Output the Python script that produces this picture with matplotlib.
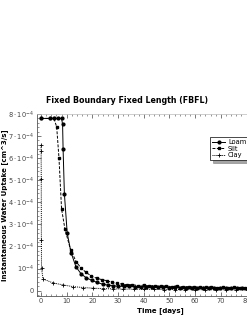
import matplotlib
matplotlib.use("Agg")
import matplotlib.pyplot as plt
from matplotlib.ticker import MultipleLocator, FuncFormatter

# ---------------- data (values in units of 1e-4 cm^3/s) ----------------
loam_t = [0, 3.5, 5, 6.5, 8, 8.4, 8.6, 9.1, 10.2, 11.7, 13.6, 15.6, 17.6, 19.7, 21.8, 24.0,
          26.0, 28.0, 30.0, 32.2, 34.4, 36.6, 38.8, 41.0, 43.2, 45.4, 47.6, 49.8, 52.0, 54.2,
          56.4, 58.6, 60.8, 63.0, 65.2, 67.4, 69.6, 71.8, 74.0, 76.2, 78.4, 80.6, 82.8, 85.0,
          87.2, 89.4, 91.6, 93.8]
loam_y = [7.8, 7.8, 7.8, 7.8, 7.8, 7.53, 6.4, 4.39, 2.6, 1.72, 1.08, 0.76, 0.58, 0.47, 0.37, 0.29,
          0.25, 0.22, 0.2, 0.19, 0.2, 0.17, 0.18, 0.16, 0.17, 0.15, 0.16, 0.14, 0.15, 0.13,
          0.14, 0.12, 0.13, 0.12, 0.13, 0.11, 0.12, 0.11, 0.12, 0.1, 0.11, 0.1, 0.11, 0.1,
          0.1, 0.09, 0.1, 0.09]

silt_t = [0, 3.5, 5, 6.1, 7.0, 8.0, 9.3, 11.5, 13.7, 15.6, 17.5, 19.6, 21.7, 23.6, 25.5, 27.5,
          29.5, 31.4, 33.3, 35.5, 37.7, 39.9, 42.1, 44.3, 46.5, 48.7, 50.9, 53.1, 55.3, 57.5,
          59.7, 61.9, 64.1, 66.3, 68.5, 70.7, 72.9, 75.1, 77.3, 79.5, 81.7, 83.9, 86.1, 88.3,
          90.5, 92.7]
silt_y = [7.8, 7.8, 7.8, 7.42, 6.0, 3.7, 2.8, 1.85, 1.31, 1.02, 0.83, 0.66, 0.56, 0.5, 0.45, 0.38,
          0.33, 0.3, 0.26, 0.27, 0.23, 0.25, 0.21, 0.23, 0.19, 0.21, 0.18, 0.2, 0.17, 0.18,
          0.16, 0.17, 0.15, 0.16, 0.14, 0.15, 0.13, 0.15, 0.13, 0.14, 0.12, 0.13, 0.12, 0.13,
          0.11, 0.12]

clay_t = [0, 0.05, 0.1, 0.15, 0.2, 0.8, 4.6, 8.5, 12.5, 16.4, 20.3, 24.2, 28.1, 32.0, 36.0,
          40.0, 44.0, 48.0, 52.0, 56.0, 60.0, 64.0, 68.0, 72.0, 76.0, 80.0, 84.0, 88.0, 92.0]
clay_y = [6.6, 6.32, 5.06, 2.3, 1.01, 0.53, 0.35, 0.26, 0.18, 0.14, 0.11, 0.09, 0.08, 0.07, 0.065,
          0.06, 0.055, 0.05, 0.05, 0.045, 0.045, 0.04, 0.04, 0.04, 0.035, 0.035, 0.035, 0.03, 0.03]

series_names = ["Loam", "Silt", "Clay"]
title = "Fixed Boundary Fixed Length (FBFL)"
xlabel = "Time [days]"
ylabel = "Instantaneous Water Uptake [cm^3/s]"
scale = 1e-4

# ---------------- figure ----------------
W, H = 247, 319
fig = plt.figure(figsize=(W / 100, H / 100), dpi=100)
ax_left, ax_right, ax_top, ax_bottom = 36.5, 298, 114, 295.7
ax = fig.add_axes([ax_left / W, (H - ax_bottom) / H, (ax_right - ax_left) / W, (ax_bottom - ax_top) / H])

lw = 0.7
ms = 2.0
ax.plot(loam_t, [v * scale for v in loam_y], color="black", lw=lw, ls="-", marker="o", ms=ms, label=series_names[0])
ax.plot(silt_t, [v * scale for v in silt_y], color="black", lw=lw, ls=(0, (3, 1.5)), marker="s", ms=ms, label=series_names[1])
ax.plot(clay_t, [v * scale for v in clay_y], color="black", lw=lw, ls=(0, (1, 1)), marker="+", ms=2.5, mew=0.6, label=series_names[2])

ax.set_xlim(-1.75, 100)
ax.set_ylim(-0.23e-4, 8e-4)

ax.xaxis.set_major_locator(MultipleLocator(10))
ax.xaxis.set_minor_locator(MultipleLocator(2))
ax.yaxis.set_major_locator(MultipleLocator(1e-4))
ax.yaxis.set_minor_locator(MultipleLocator(0.2e-4))


def yfmt(v, pos):
    n = int(round(v / 1e-4))
    if n == 0:
        return "0"
    if n == 1:
        return r"$10^{-4}$"
    return r"$%d\cdot10^{-4}$" % n


ax.yaxis.set_major_formatter(FuncFormatter(yfmt))

tick_col = "#444444"
ax.tick_params(which="both", direction="in", top=True, right=True, colors=tick_col, labelsize=4.8, pad=1.8)
ax.tick_params(which="major", length=3, width=0.5)
ax.tick_params(which="minor", length=1.6, width=0.4)
for s in ["left", "bottom"]:
    ax.spines[s].set_color("#555555")
    ax.spines[s].set_linewidth(0.6)
for s in ["top", "right"]:
    ax.spines[s].set_color("#bbbbbb")
    ax.spines[s].set_linewidth(0.5)

fig.text(127 / W, 1 - 100 / H, title, ha="center", va="center", fontsize=5.7, fontweight="bold")
fig.text(160 / W, 1 - 311 / H, xlabel, ha="center", va="center", fontsize=5.0, fontweight="bold")
fig.text(5 / W, 1 - 205 / H, ylabel, ha="center", va="center", rotation=90, fontsize=5.0, fontweight="bold")

leg = ax.legend(loc="upper left", bbox_to_anchor=(210 / W, 1 - 137 / H), bbox_transform=fig.transFigure,
                fontsize=4.8, frameon=True, fancybox=False, shadow=True, handlelength=2.0,
                handletextpad=0.4, borderpad=0.3, labelspacing=0.1, borderaxespad=0)
leg.get_frame().set_edgecolor("black")
leg.get_frame().set_linewidth(0.5)

fig.savefig("out.png", dpi=100)
